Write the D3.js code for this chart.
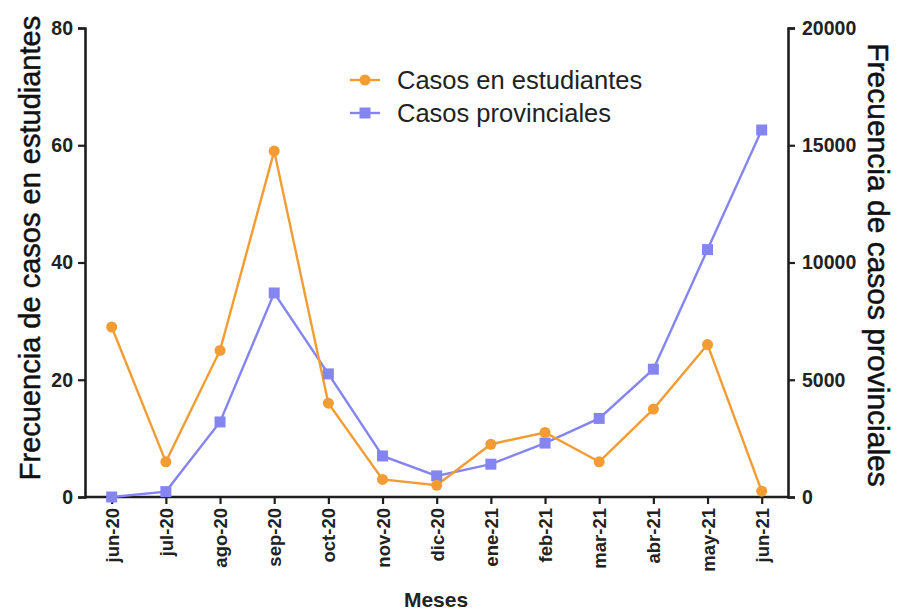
<!DOCTYPE html>
<html><head><meta charset="utf-8">
<script src="https://cdn.jsdelivr.net/npm/d3@7"></script>
<style>body{margin:0;background:#fff}svg{display:block}text{font-family:"Liberation Sans",Arial,sans-serif}</style>
</head><body>
<svg id="c" width="897" height="610"></svg>
<script>
const months = ["jun-20","jul-20","ago-20","sep-20","oct-20","nov-20","dic-20","ene-21","feb-21","mar-21","abr-21","may-21","jun-21"];
const estudiantes = [29,6,25,59,16,3,2,9,11,6,15,26,1];
const provinciales = [0,230,3200,8700,5250,1750,900,1400,2300,3350,5450,10550,15650];
const leftTicks = [0,20,40,60,80];
const rightTicks = [0,5000,10000,15000,20000];

const svg = d3.select("#c");
const L = 85, R = 788, T = 28, B = 497;
const x = d3.scalePoint().domain(months).range([111.7, 761.7]);
const yL = d3.scaleLinear().domain([0,80]).range([B,T]);
const yR = d3.scaleLinear().domain([0,20000]).range([B,T]);
const orange = "#F39C34", blue = "#8585F2", axc = "#1e1e1e";

// axes
const gL = svg.append("g").attr("transform",`translate(${L},0)`)
  .call(d3.axisLeft(yL).tickValues(leftTicks).tickSize(7).tickPadding(5));
const gR = svg.append("g").attr("transform",`translate(${R},0)`)
  .call(d3.axisRight(yR).tickValues(rightTicks).tickFormat(d3.format("d")).tickSize(7).tickPadding(7));
const gX = svg.append("g").attr("transform",`translate(0,${B})`)
  .call(d3.axisBottom(x).tickSize(7).tickPadding(5));
gX.select(".domain").attr("d",`M${L},0H${R}`);
[gL,gR,gX].forEach(g=>{
  g.selectAll(".domain").attr("stroke",axc).attr("stroke-width",2.6);
  g.selectAll(".tick line").attr("stroke",axc).attr("stroke-width",2.2);
  g.selectAll("text").attr("fill","#222").attr("font-size",19.5).attr("font-weight","bold")
    .style("font-family","'Liberation Sans',Arial,sans-serif");
});
gX.selectAll(".tick text").attr("transform","rotate(-90)").attr("text-anchor","end")
  .attr("x",-11).attr("y",0).attr("dy","0.35em").attr("font-size",18.5);

// lines
const lineL = d3.line().x((d,i)=>x(months[i])).y(d=>yL(d));
const lineR = d3.line().x((d,i)=>x(months[i])).y(d=>yR(d));
svg.append("path").attr("d",lineR(provinciales)).attr("fill","none").attr("stroke",blue).attr("stroke-width",2.4);
svg.append("path").attr("d",lineL(estudiantes)).attr("fill","none").attr("stroke",orange).attr("stroke-width",2.4);
svg.selectAll(".sq").data(provinciales).enter().append("rect")
  .attr("x",(d,i)=>x(months[i])-5.5).attr("y",d=>yR(d)-5.5).attr("width",11).attr("height",11).attr("fill",blue);
svg.selectAll(".ci").data(estudiantes).enter().append("circle")
  .attr("cx",(d,i)=>x(months[i])).attr("cy",d=>yL(d)).attr("r",5.5).attr("fill",orange);

// titles
svg.append("text").attr("transform","translate(40,248) rotate(-90)").attr("text-anchor","middle")
  .attr("font-size",29).attr("fill","#111").attr("stroke","#111").attr("stroke-width",0.5).text("Frecuencia de casos en estudiantes");
svg.append("text").attr("transform","translate(868,265) rotate(90)").attr("text-anchor","middle")
  .attr("font-size",30).attr("fill","#111").attr("stroke","#111").attr("stroke-width",0.5).text("Frecuencia de casos provinciales");
svg.append("text").attr("x",436).attr("y",607).attr("text-anchor","middle")
  .attr("font-size",21).attr("font-weight","bold").attr("fill","#222").text("Meses");

// legend
const legend = [{label:"Casos en estudiantes",color:orange,shape:"c"},{label:"Casos provinciales",color:blue,shape:"s"}];
legend.forEach((d,i)=>{
  const yy = 80 + i*33;
  svg.append("line").attr("x1",350).attr("x2",380).attr("y1",yy).attr("y2",yy).attr("stroke",d.color).attr("stroke-width",2.4);
  if(d.shape==="c") svg.append("circle").attr("cx",365).attr("cy",yy).attr("r",5.5).attr("fill",d.color);
  else svg.append("rect").attr("x",359.5).attr("y",yy-5.5).attr("width",11).attr("height",11).attr("fill",d.color);
  svg.append("text").attr("x",397).attr("y",yy).attr("dy","0.35em").attr("font-size",25.5).attr("fill","#222").text(d.label);
});
</script>
</body></html>
